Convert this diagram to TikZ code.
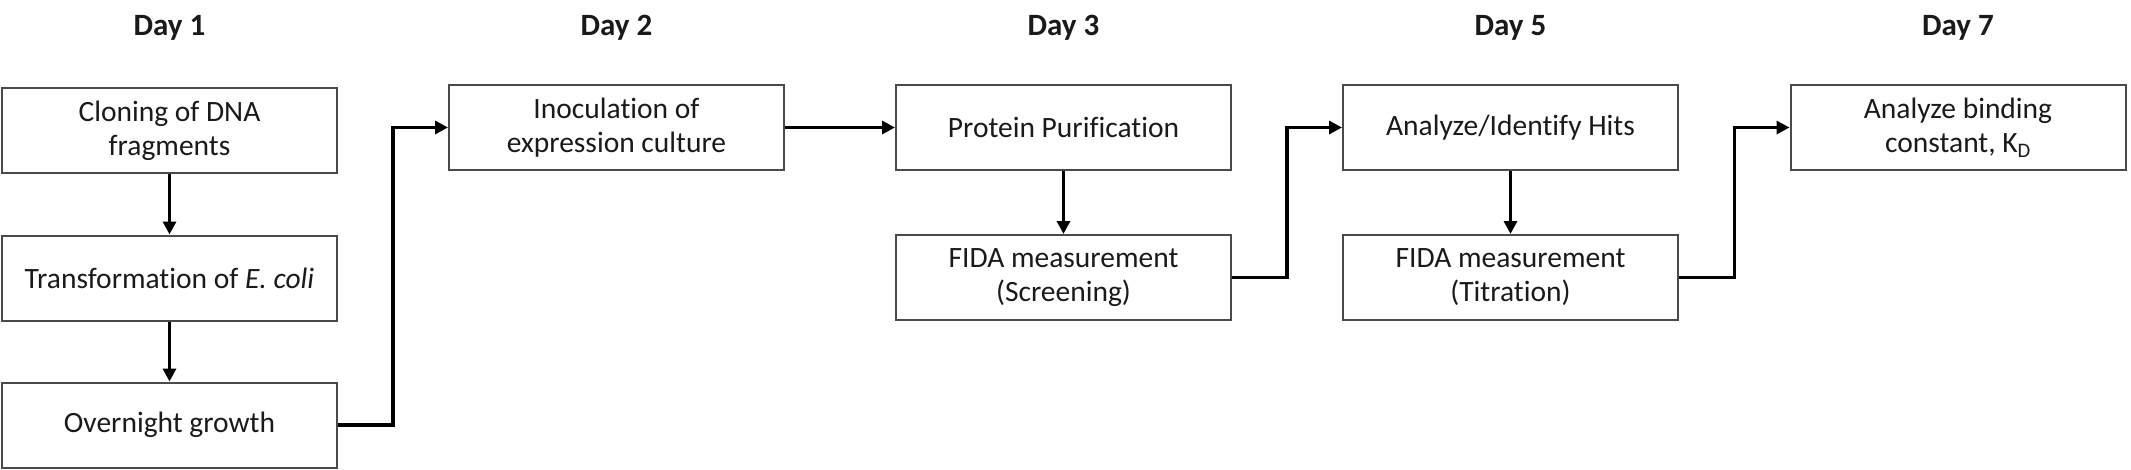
\documentclass[tikz,border=0pt]{standalone}
\usepackage{fontspec}
\setmainfont[Ligatures={NoCommon}]{Carlito}
\usetikzlibrary{arrows.meta,calc}
\definecolor{boxline}{HTML}{4A4A4A}
\definecolor{txt}{HTML}{1A1A1A}
\begin{document}
\begin{tikzpicture}[x=1pt,y=-1pt,
  stepbox/.style={draw=boxline,line width=2pt,rectangle,minimum width=335pt,minimum height=85pt,
    align=center,inner sep=0pt,text=txt,font=\fontsize{29.5}{34}\selectfont},
  daylbl/.style={text=txt,font=\bfseries\fontsize{31}{34}\selectfont,inner sep=0pt},
  conn/.style={line width=3.2pt,-{Triangle[length=13pt,width=13pt]},black}]
\useasboundingbox (0,0) rectangle (2131,469);
% day labels
\node[daylbl] (d1) at (169.5,28) {Day 1};
\node[daylbl] (d2) at (616.5,28) {Day 2};
\node[daylbl] (d3) at (1063.5,28) {Day 3};
\node[daylbl] (d5) at (1510.5,28) {Day 5};
\node[daylbl] (d7) at (1958,28) {Day 7};
% column 1
\node[stepbox] (a1) at (169.5,130.5) {Cloning of DNA\\fragments};
\node[stepbox] (a2) at (169.5,278) {Transformation of \textit{E. coli}};
\node[stepbox] (a3) at (169.5,425) {Overnight growth};
% column 2
\node[stepbox] (b1) at (616.5,127.5) {Inoculation of\\expression culture};
% column 3
\node[stepbox] (c1) at (1063.5,127.5) {Protein Purification};
\node[stepbox] (c2) at (1063.5,277.5) {FIDA measurement\\(Screening)};
% column 4
\node[stepbox] (e1) at (1510.5,127.5) {Analyze/Identify Hits};
\node[stepbox] (e2) at (1510.5,277.5) {FIDA measurement\\(Titration)};
% column 5
\node[stepbox] (f1) at (1958,127.5) {Analyze binding\\constant, K\textsubscript{D}};
% connectors
\draw[conn] (a1) -- (a2);
\draw[conn] (a2) -- (a3);
\draw[conn] (a3.east) -| ($(a3.east)!0.5!(b1.west)$) |- (b1.west);
\draw[conn] (b1) -- (c1);
\draw[conn] (c1) -- (c2);
\draw[conn] (c2.east) -| ($(c2.east)!0.5!(e1.west)$) |- (e1.west);
\draw[conn] (e1) -- (e2);
\draw[conn] (e2.east) -| ($(e2.east)!0.5!(f1.west)$) |- (f1.west);
\end{tikzpicture}
\end{document}
